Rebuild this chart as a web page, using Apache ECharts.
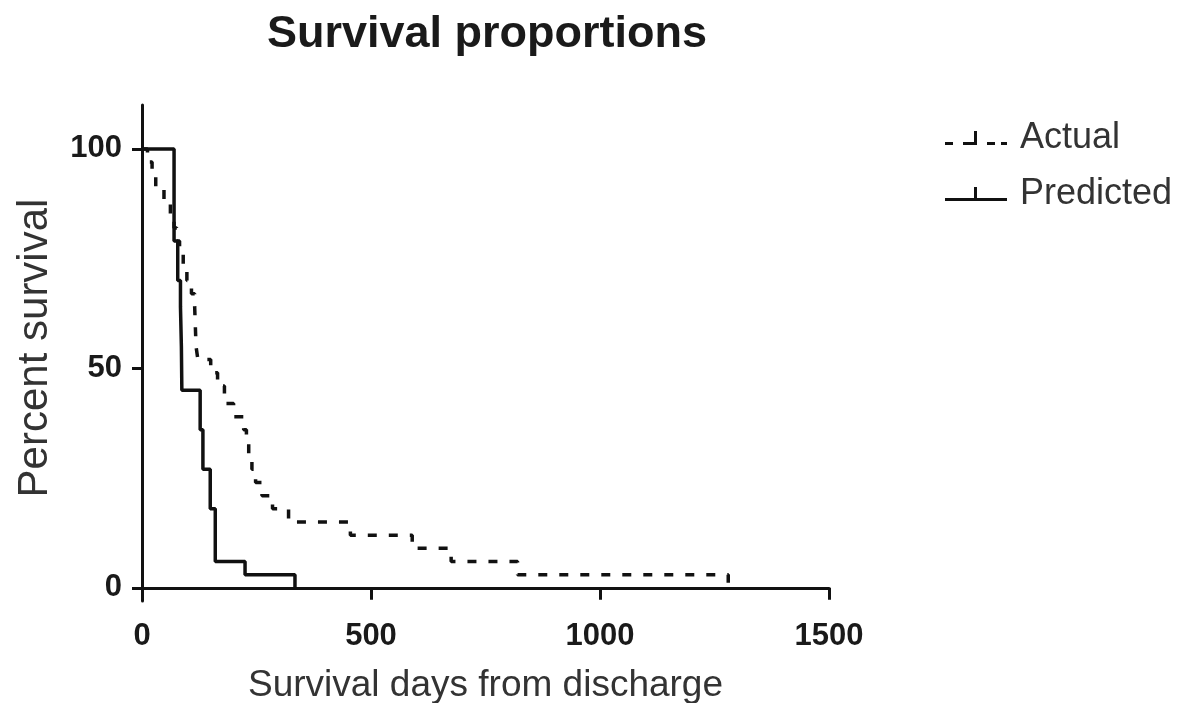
<!DOCTYPE html>
<html>
<head>
<meta charset="utf-8">
<script src="https://cdn.jsdelivr.net/npm/echarts@6/dist/echarts.min.js"></script>
<style>html,body{margin:0;padding:0;background:#fff;}#c{width:1189px;height:703px;}</style>
</head>
<body>
<div id="c"></div>
<script>
// Kaplan-Meier step points: [day, percent survival after that day]
const actualDays = [0, 12, 22, 30, 48, 62, 70, 76, 82, 90, 98, 108, 115, 116, 117, 118, 122, 150, 165, 180, 200, 222, 228, 233, 240, 248, 262, 285, 320, 455, 590, 675, 820, 1280];
const actualSurv = [100, 97, 94, 91, 88, 85, 82, 79, 76, 73, 70, 67, 64, 61, 58, 55, 52, 49, 46, 42, 39, 36, 33, 30, 27, 24, 21, 18, 15, 12, 9, 6, 3, 0];
const predictedDays = [0, 70, 78, 84, 86, 87, 127, 133, 149, 160, 225, 334];
const predictedSurv = [100, 79, 70, 64, 55, 45, 36, 27, 18, 6, 3, 0];
const xTicks = [0, 500, 1000, 1500];
const yTicks = [0, 50, 100];
const seriesNames = ['Actual', 'Predicted'];

const zip = (a, b) => a.map((v, i) => [v, b[i]]);
const FONT = 'Liberation Sans, Arial, sans-serif';
// legend glyphs: line with a small vertical tick in the middle (GraphPad style)
const ICON_SOLID = 'path://M0,11 L62,11 L62,14 L0,14 Z M29,0 L32,0 L32,11 L29,11 Z';
const ICON_DASHED = 'path://M0,11 L8,11 L8,14 L0,14 Z M18,11 L32,11 L32,14 L18,14 Z M29,0 L32,0 L32,11 L29,11 Z M42,11 L50,11 L50,14 L42,14 Z M56,11 L62,11 L62,14 L56,14 Z';

const chart = echarts.init(document.getElementById('c'), null, {renderer: 'canvas'});
chart.setOption({
  animation: false,
  backgroundColor: '#fff',
  title: {
    text: 'Survival proportions',
    left: 482, top: 7, textAlign: 'center',
    textStyle: {fontFamily: FONT, fontWeight: 'bold', fontSize: 45, color: '#1a1a1a'}
  },
  legend: {
    orient: 'vertical', left: 940, top: 115, itemGap: 20,
    itemWidth: 62, itemHeight: 14,
    textStyle: {fontFamily: FONT, fontSize: 36, color: '#333', padding: [0, 0, 0, 8]},
    data: [
      {name: seriesNames[0], icon: ICON_DASHED},
      {name: seriesNames[1], icon: ICON_SOLID}
    ]
  },
  grid: {left: 142, right: 360, top: 105, bottom: 102, containLabel: false, outerBoundsMode: 'none'},
  xAxis: {
    type: 'value', min: 0, max: 1500, interval: 500,
    name: 'Survival days from discharge', nameLocation: 'middle', nameGap: 66,
    nameTextStyle: {fontFamily: FONT, fontSize: 37, color: '#333'},
    axisLine: {show: true, onZero: true, lineStyle: {color: '#111', width: 3}},
    axisTick: {show: true, length: 12, lineStyle: {color: '#111', width: 3}, customValues: xTicks},
    axisLabel: {fontFamily: FONT, fontWeight: 'bold', fontSize: 31, color: '#1a1a1a', margin: 20,
                customValues: xTicks, formatter: v => String(v)},
    splitLine: {show: false}
  },
  yAxis: {
    type: 'value', min: -3, max: 110,
    name: 'Percent survival', nameLocation: 'middle', nameGap: 86, nameRotate: 90,
    nameTextStyle: {fontFamily: FONT, fontSize: 42, color: '#333', padding: [0, 0, 0, 10]},
    axisLine: {show: true, lineStyle: {color: '#111', width: 3}},
    axisTick: {show: true, length: 10, lineStyle: {color: '#111', width: 3}, customValues: yTicks},
    axisLabel: {fontFamily: FONT, fontWeight: 'bold', fontSize: 31, color: '#1a1a1a', margin: 20,
                customValues: yTicks, formatter: v => String(v)},
    splitLine: {show: false}
  },
  series: [
    {
      name: seriesNames[0], type: 'line', step: 'end',
      data: zip(actualDays, actualSurv),
      showSymbol: false, symbol: 'none',
      itemStyle: {color: '#111'},
      lineStyle: {color: '#111', width: 3.5, type: [9, 12]},
      z: 3
    },
    {
      name: seriesNames[1], type: 'line', step: 'end',
      data: zip(predictedDays, predictedSurv),
      showSymbol: false, symbol: 'none',
      itemStyle: {color: '#111'},
      lineStyle: {color: '#111', width: 3.5, type: 'solid'},
      z: 4
    }
  ]
});
</script>
</body>
</html>
